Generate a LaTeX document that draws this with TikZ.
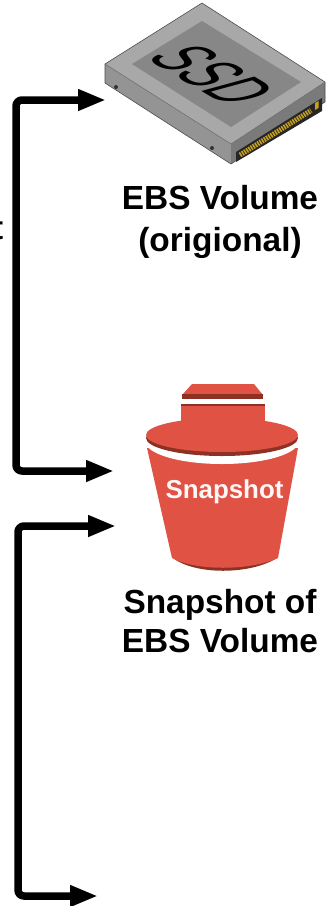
\documentclass[tikz,border=0pt]{standalone}
\usepackage{fontspec}
\setmainfont{Liberation Sans}
\usetikzlibrary{arrows.meta}
\definecolor{bred}{HTML}{E05243}
\definecolor{bdark}{HTML}{8C3123}
\definecolor{pincol}{HTML}{C8A020}
\tikzset{
  flow/.style={line width=7.5pt,rounded corners=6pt,-{Triangle[length=28pt,width=20pt]}},
  lbl/.style={align=center,text=black,inner sep=0pt},
  lblfont/.style={font=\fontsize{33.4}{#1}\selectfont\bfseries},
  edgeline/.style={draw=black!70,line width=.6pt,line join=round}
}
\begin{document}
\begin{tikzpicture}[x=1pt,y=-1pt]
\useasboundingbox (0,0) rectangle (326,906);
% disk
\fill[black!42] (105,64) -- (231,144) -- (231,164) -- (105,83) -- cycle;
\fill[black!52] (231,144) -- (325,82) -- (325,102) -- (231,164) -- cycle;
\fill[black!34] (202,3) -- (325,82) -- (231,144) -- (105,64) -- cycle;
\draw[edgeline] (202,3) -- (325,82) -- (325,102) -- (231,164) -- (105,83) -- (105,64) -- cycle;
\draw[black!60,line width=.5pt] (105,64) -- (231,144) -- (325,82);
\fill[black!47] (202,21) -- (301,82) -- (231,127) -- (132,64) -- cycle;
\fill[black!85] (236,152) -- (322,98) -- (322,111) -- (236,162) -- cycle;
\draw[pincol,line width=5pt,dash pattern=on 1.6pt off 1pt] (240,155) -- (311,110.5);
\fill[pincol] (315,103) -- (318.5,101) -- (318.5,108) -- (315,110) -- cycle;
\fill[black!80] (116,87) circle (2pt) (212,148) circle (2pt);
\node[transform shape,inner sep=0pt,font=\fontsize{10}{10}\selectfont,cm={4.05,-2.4,7.7,2.1,(213,75)}] (ssd) at (0,0) {SSD};
% labels
\node[lbl,lblfont=42] (ebslabel) at (220,222) {EBS Volume\\(origional)};
\node[lbl,lblfont=39] (snaplabel) at (220,621) {Snapshot of\\EBS Volume};
\node[lbl,lblfont=40,anchor=base east] (srclabel) at (3.5,239) {t};
% bucket
\fill[bred] (192,384) -- (254,384) -- (263,395) -- (182,395) -- cycle;
\fill[bdark] (182,394) rectangle (263,399);
\fill[bdark] (173,558) .. controls (195,575) and (250,575) .. (277,558) -- (270,545) -- (180,545) -- cycle;
\fill[bred] (147,448) -- (172,558) .. controls (195,571) and (250,571) .. (278,558) -- (298,448) -- cycle;
\fill[white] (222,441) ellipse [x radius=77,y radius=23];
\fill[bdark] (222,438) ellipse [x radius=76,y radius=18];
\fill[bred] (222,435) ellipse [x radius=76,y radius=17];
\fill[bred] (181,404) rectangle (265,425);
\fill[bdark] (181,404) rectangle (265,405.5);
\node[font=\fontsize{25.9}{25.9}\selectfont\bfseries,text=white!95!bred,inner sep=0pt] (snapicon) at (224.5,492) {Snapshot};
% connectors
\coordinate (disk) at (106,100);
\coordinate (snapa) at (114,471);
\coordinate (snapb) at (116,526);
\coordinate (lower) at (98,896);
\coordinate (srcjoin) at (16,240);
\coordinate (lowjoin) at (18,700);
\draw[flow] (srcjoin) |- (disk);
\draw[flow] (srcjoin) |- (snapa);
\draw[flow] (lowjoin) |- (snapb);
\draw[flow] (lowjoin) |- (lower);
\end{tikzpicture}
\end{document}
